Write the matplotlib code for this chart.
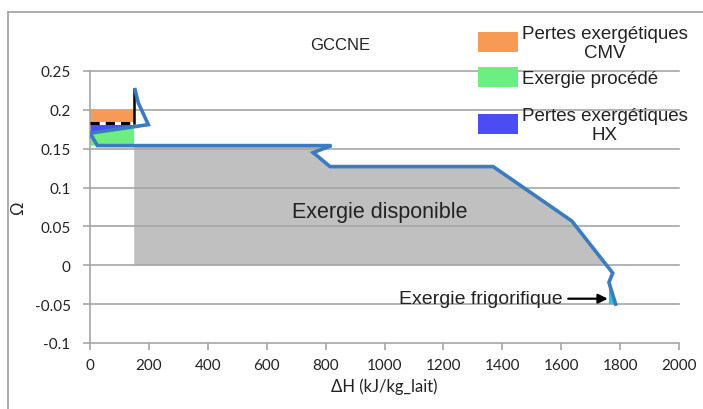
import matplotlib
matplotlib.use("Agg")
import matplotlib.pyplot as plt
from matplotlib.patches import Polygon, Rectangle
from matplotlib.lines import Line2D

# ---- data ----
curve_x = [153, 164, 198, 0, 25, 820, 758, 815, 1369, 1636, 1775, 1762, 1785]
curve_y = [0.226, 0.209, 0.181, 0.170, 0.154, 0.154, 0.145, 0.127, 0.127, 0.057, -0.010, -0.022, -0.050]

dispo_x = [150, 820, 758, 815, 1369, 1636, 1754, 150]
dispo_y = [0.154, 0.154, 0.145, 0.127, 0.127, 0.057, 0.0, 0.0]

frigo_x = [1762, 1785, 1762]
frigo_y = [-0.022, -0.050, -0.050]

cmv_x = [0, 150, 150, 0]
cmv_y = [0.183, 0.183, 0.200, 0.200]

hx_x = [0, 150, 150, 0]
hx_y = [0.183, 0.183, 0.179, 0.170]

proc_x = [0, 150, 150, 0]
proc_y = [0.170, 0.179, 0.154, 0.154]

dash_x = [0, 150]
dash_y = [0.183, 0.183]

vert_x = [150, 150]
vert_y = [0.183, 0.227]

xticks = list(range(0, 2001, 200))
yticks = [-0.1, -0.05, 0, 0.05, 0.1, 0.15, 0.2, 0.25]
ytick_labels = ["-0.1", "-0.05", "0", "0.05", "0.1", "0.15", "0.2", "0.25"]

legend_labels = ["Pertes exergétiques\nCMV", "Exergie procédé", "Pertes exergétiques\nHX"]

# ---- colours ----
c_orange = "#f79a55"
c_green = "#6cef80"
c_blue = "#4b4cf2"
c_gray = "#c0c0c0"
c_curve = "#3b7bbf"
c_cyan = "#2cc6d6"
c_grid = "#a6a6a6"

W, H = 703, 410
fig = plt.figure(figsize=(W / 100, H / 100), dpi=100)
ax = fig.add_axes([90 / W, 1 - 344 / H, (679 - 90) / W, (344 - 72) / H])

ax.set_xlim(0, 2000)
ax.set_ylim(-0.1, 0.25)

# fills
ax.add_patch(Polygon(list(zip(dispo_x, dispo_y)), closed=True, facecolor=c_gray, edgecolor="none", zorder=1))
ax.add_patch(Polygon(list(zip(cmv_x, cmv_y)), closed=True, facecolor=c_orange, edgecolor="none", zorder=2))
ax.add_patch(Polygon(list(zip(hx_x, hx_y)), closed=True, facecolor=c_blue, edgecolor="none", zorder=2))
ax.add_patch(Polygon(list(zip(proc_x, proc_y)), closed=True, facecolor=c_green, edgecolor="none", zorder=2))
ax.add_patch(Polygon(list(zip(frigo_x, frigo_y)), closed=True, facecolor=c_cyan, edgecolor="none", zorder=2))

# grid
for yv in yticks[1:]:
    ax.axhline(yv, color=c_grid, lw=1.2, zorder=1.5, clip_on=False)

# lines
ax.plot(dash_x, dash_y, color="white", lw=2.2, zorder=2.5, solid_capstyle="butt")
ax.plot(dash_x, dash_y, color="black", lw=2.2, dashes=(3, 2), zorder=2.6)
ax.plot(vert_x, vert_y, color="black", lw=1.8, zorder=2.6)
ax.plot(curve_x, curve_y, color=c_curve, lw=2.6, zorder=3, solid_joinstyle="miter")

# spines / ticks
for s in ["top", "right"]:
    ax.spines[s].set_visible(False)
for s in ["left", "bottom"]:
    ax.spines[s].set_color(c_grid)
    ax.spines[s].set_linewidth(1.2)
ax.set_xticks(xticks)
ax.set_yticks(yticks)
ax.set_yticklabels(ytick_labels)
ax.tick_params(axis="both", direction="out", length=5, width=1.2, color=c_grid,
               labelsize=11, labelcolor="#222222")
ax.tick_params(axis="y", pad=9)
ax.tick_params(axis="x", pad=6)
for lab in ax.get_xticklabels() + ax.get_yticklabels():
    lab.set_family("Lato")

ax.set_xlabel("ΔH (kJ/kg_lait)", family=["Lato", "DejaVu Sans"], fontsize=12, color="#222222", labelpad=4)
ax.set_ylabel("Ω", family=["Lato", "DejaVu Sans"], fontsize=12, color="#222222", labelpad=6)

# annotations
ax.text(985, 0.069, "Exergie disponible", family="Liberation Sans", fontsize=15.5,
        color="#222222", ha="center", va="center", zorder=4)
ax.annotate("Exergie frigorifique", xy=(1758, -0.043), xytext=(1605, -0.043),
            family="Liberation Sans", fontsize=14, color="#222222", ha="right", va="center",
            arrowprops=dict(arrowstyle="-|>", color="black", lw=1.6, shrinkA=2, shrinkB=0,
                            mutation_scale=14), zorder=4)

# title
fig.text(340 / W, 1 - 45 / H, "GCCNE", family="Liberation Sans", fontsize=12,
         color="#222222", ha="center", va="center")

# legend (manual)
leg_colors = [c_orange, c_green, c_blue]
leg_box_top = [33, 68, 115]
leg_text_y = [44, 80, 126]
for col, top, ty, lab in zip(leg_colors, leg_box_top, leg_text_y, legend_labels):
    fig.patches.append(Rectangle((478 / W, 1 - (top + 20) / H), 40 / W, 20 / H,
                                 transform=fig.transFigure, facecolor=col, edgecolor="none"))
    fig.text(522 / W, 1 - ty / H, lab, family="Liberation Sans", fontsize=13.5,
             color="#222222", ha="left", va="center", multialignment="center",
             linespacing=1.15)

# chart area border (left and top visible)
fig.add_artist(Line2D([8 / W, 8 / W], [0, 1 - 13 / H], transform=fig.transFigure,
                      color="#a0a0a0", lw=1.2))
fig.add_artist(Line2D([8 / W, 1], [1 - 13 / H, 1 - 13 / H], transform=fig.transFigure,
                      color="#a0a0a0", lw=1.2))

fig.savefig("out.png", dpi=100)
